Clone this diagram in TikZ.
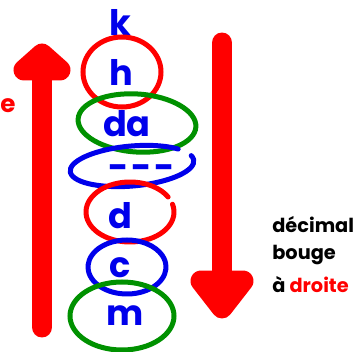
\documentclass[tikz,border=0pt]{standalone}
\usepackage{fontspec}
\setmainfont{Poppins}
\definecolor{penred}{RGB}{255,0,0}
\definecolor{penblue}{RGB}{0,0,235}
\definecolor{pengreen}{RGB}{0,145,0}

\begin{document}
\begin{tikzpicture}[x=0.02cm,y=-0.02cm,
    letter/.style={text=penblue,inner sep=0pt,font=\fontsize{20}{24}\selectfont\bfseries},
    note/.style={inner sep=0pt,anchor=base west,font=\fontsize{11}{14}\selectfont\bfseries},
    ring/.style={line width=1mm,line cap=round},
    bigarrow/.style={penred,line width=0.42cm,line cap=round,line join=round}]

        \useasboundingbox (0,0) rectangle (363,352);

        %arrows
        \coordinate (upTail) at (42,327);
        \coordinate (upHead) at (42,70);
        \coordinate (downTail) at (222,43);
        \coordinate (downHead) at (222,281);
        \draw[bigarrow] (upTail) -- (upHead);
        \filldraw[bigarrow] (42,54) -- (24,70) -- (60,70) -- cycle;
        \draw[bigarrow] (downTail) -- (downHead);
        \filldraw[bigarrow] (222,308) -- (201,281) -- (243,281) -- cycle;

        %letters
        \node[letter] (k) at (120,22) {k};
        \node[letter] (h) at (121,72) {h};
        \node[letter] (da) at (127,124) {da};
        \node[letter] (dot) at (142,172) {-\hspace{1.5pt}-\hspace{1.5pt}-};
        \node[letter] (d) at (120,216) {d};
        \node[letter] (c) at (120,268) {c};
        \node[letter] (m) at (125,316) {m};

        %rings
        \draw[ring,penred] (122,72) ellipse[x radius=39,y radius=35];
        \draw[ring,pengreen,rotate around={-4:(137,123)}] (137,123) ellipse[x radius=59,y radius=29];
        \draw[ring,penblue,rotate around={5:(132,166)}] (132,166) ++({62*cos(-15)},{20*sin(-15)})
            arc[start angle=-15,end angle=320,x radius=62,y radius=20];
        \draw[ring,penred] (130,212) ++({44*cos(-15)},{30*sin(-15)})
            arc[start angle=-15,end angle=330,x radius=44,y radius=30];
        \draw[ring,penblue] (127,267) ++({39*cos(-30)},{27*sin(-30)})
            arc[start angle=-30,end angle=335,x radius=39,y radius=27];
        \draw[ring,pengreen] (122,316) ellipse[x radius=52,y radius=34];

        %side notes
        \node[note,text=penred,font=\fontsize{14}{16}\selectfont\bfseries] (e) at (0,112) {e};
        \node[note] (decimal) at (272,233) {décimal};
        \node[note] (bouge) at (272,259) {bouge};
        \node[note] (droite) at (272,293) {à \textcolor{penred}{droite}};

\end{tikzpicture}
\end{document}
